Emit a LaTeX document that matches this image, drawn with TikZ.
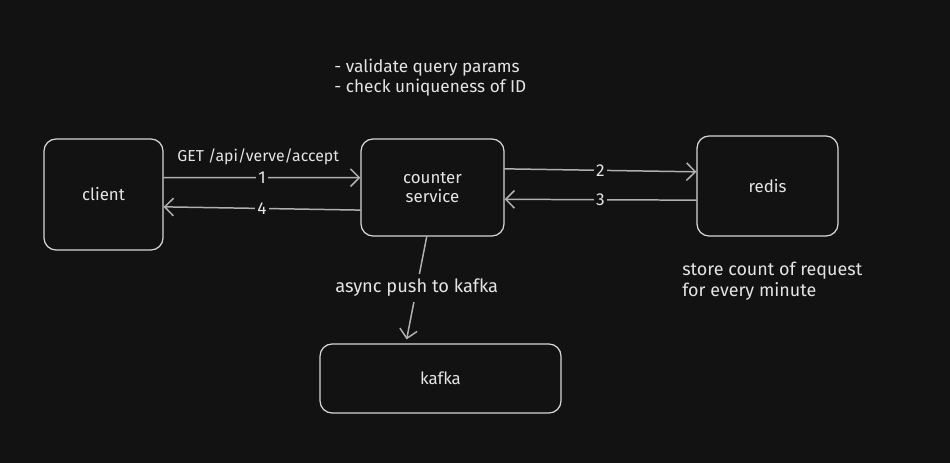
\documentclass[tikz,border=0pt]{standalone}
\usepackage{fontspec}
\setmainfont{Fira Sans}
\usepackage{xcolor}
\usetikzlibrary{arrows.meta,calc,positioning}
\definecolor{bgdark}{HTML}{121212}
\definecolor{inkline}{HTML}{D6D6D6}
\definecolor{inkarrow}{HTML}{B0B0B0}
\definecolor{inktext}{HTML}{E4E4E4}

\begin{document}
\begin{tikzpicture}[x=0.02cm,y=-0.02cm,line cap=round,line join=round,
  >={Straight Barb[length=5pt,width=10pt]},
  box/.style={draw=inkline,line width=0.7pt,rounded corners=0.24cm,fill=bgdark,
    text=inktext,align=center,inner sep=0pt,font=\fontsize{9.6}{10.8}\selectfont},
  flow/.style={draw=inkarrow,line width=0.85pt,->},
  num/.style={fill=bgdark,text=inktext,inner sep=1.5pt,font=\fontsize{9.8}{10}\selectfont},
  note/.style={anchor=west,align=left,text=inktext,inner sep=0pt,font=\fontsize{9.8}{11.2}\selectfont}]
% page and background
\fill[bgdark] (0,0) rectangle (950,463);
% boxes
\node[box,minimum width=2.38cm,minimum height=2.22cm] (client) at (103.5,194.5) {client};
\node[box,minimum width=2.86cm,minimum height=1.94cm] (counter) at (432.5,187.5) {counter\\service};
\node[box,minimum width=2.82cm,minimum height=2.00cm] (redis) at (767.5,186) {redis};
\node[box,minimum width=4.82cm,minimum height=1.38cm] (kafka) at (440.5,378.5) {kafka};
% notes
\node[note] (checks) at (334,77.5) {- validate query params\\- check uniqueness of ID};
\node[note,font=\fontsize{9}{10}\selectfont] (get) at (177,157) {GET /api/verve/accept};
\node[note,font=\fontsize{10.2}{11.8}\selectfont] (store) at (682,281.5) {store count of request\\for every minute};
% client <-> counter
\draw[flow] ($(client.north east)!0.35!(client.south east)$) -- node[num] (n1) {1}
  ($(counter.north west)!0.40!(counter.south west)$);
\draw[flow] ($(counter.north west)!0.73!(counter.south west)$) -- node[num] (n4) {4}
  ($(client.north east)!0.61!(client.south east)$);
% counter <-> redis
\draw[flow] ($(counter.north east)!0.31!(counter.south east)$) -- node[num] (n2) {2}
  ($(redis.north west)!0.36!(redis.south west)$);
\draw[flow] ($(redis.north west)!0.64!(redis.south west)$) -- node[num] (n3) {3}
  ($(counter.north east)!0.62!(counter.south east)$);
% counter -> kafka
\draw[flow] ($(counter.south west)!0.46!(counter.south east)$) -- node[num,inner sep=3pt,font=\fontsize{10.4}{11}\selectfont] (push) {async push to kafka}
  ($(kafka.north west)!0.36!(kafka.north east)+(0,-4)$);
%\draw[help lines] (0,0) grid (950,463);
\end{tikzpicture}
\end{document}
